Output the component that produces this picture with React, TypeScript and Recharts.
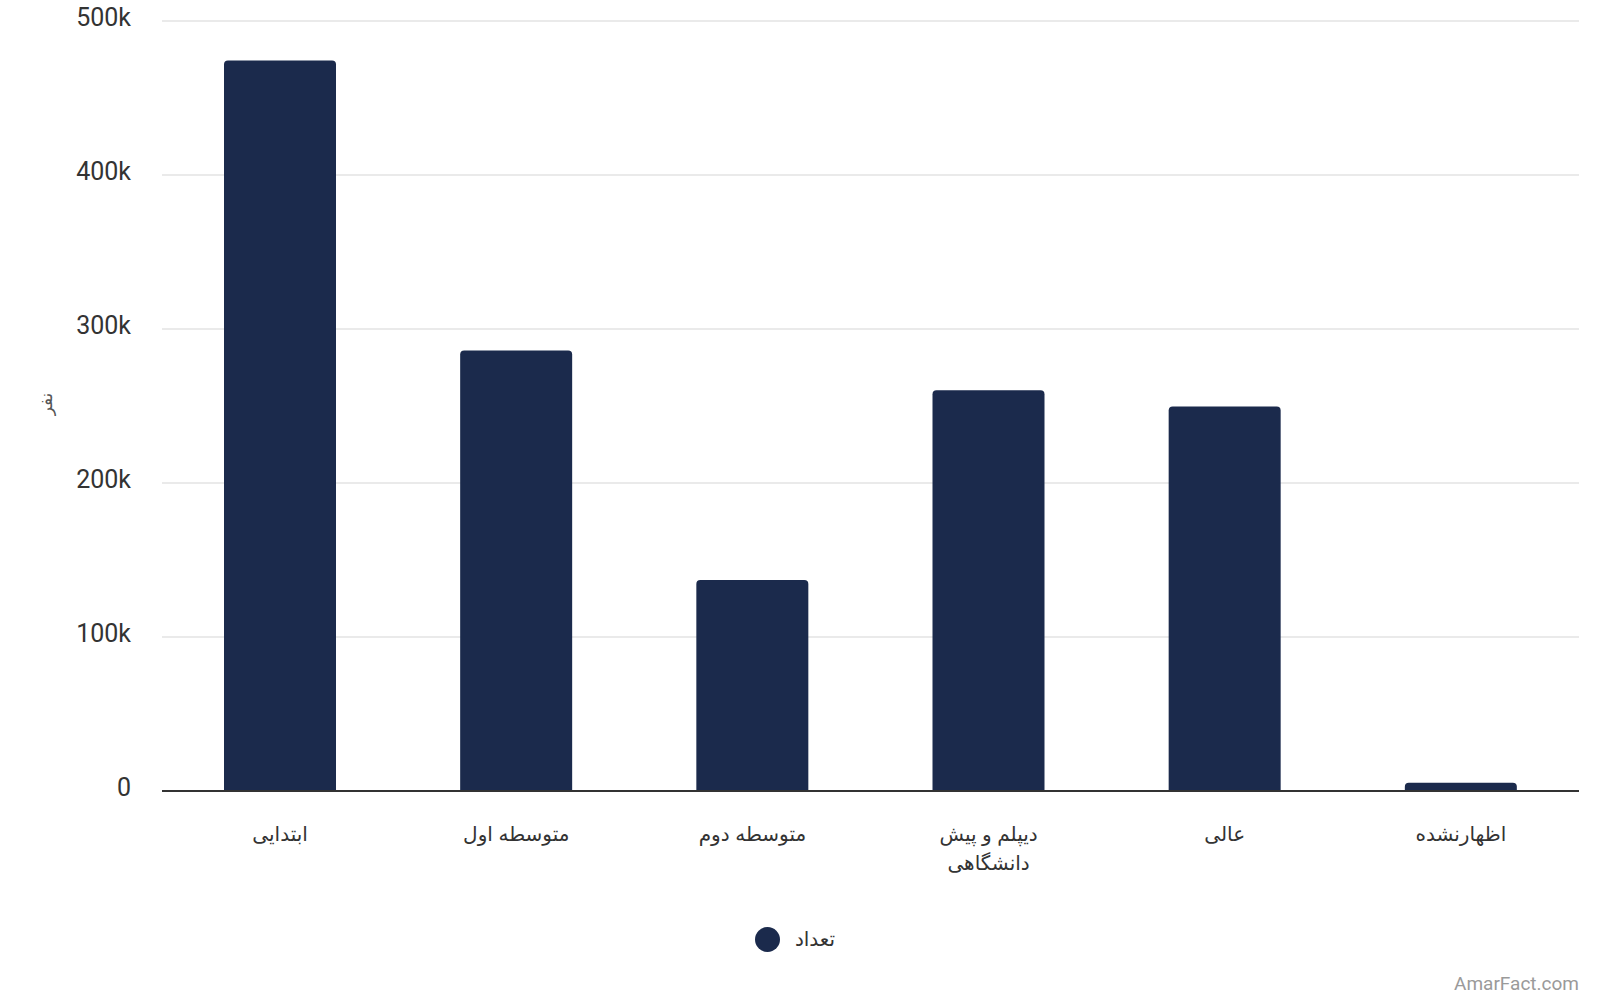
import React from 'react';
import { BarChart, Bar, XAxis, YAxis, CartesianGrid, Legend } from 'recharts';

const categories = ['ابتدایی', 'متوسطه اول', 'متوسطه دوم', 'دیپلم و پیش\nدانشگاهی', 'عالی', 'اظهارنشده'];
const counts = [474300, 286100, 137000, 260300, 249700, 5300];
const yTicks = [0, 100000, 200000, 300000, 400000, 500000];
const seriesName = 'تعداد';
const yLabel = 'نفر';
const watermark = 'AmarFact.com';

const data = categories.map((c, i) => ({ name: c, value: counts[i] }));

const BAR_COLOR = '#1b2a4c';
const PERSIAN_FONT = "'Liberation Sans', 'DejaVu Sans', sans-serif";

const fmt = (v: number) => (v === 0 ? '0' : `${v / 1000}k`);

const YTick = (props: any) => {
  const { x, y, payload } = props;
  return (
    <text x={x} y={y} dy={5} textAnchor="end" fontFamily="Roboto" fontSize={25} fill="#333">
      {fmt(payload.value)}
    </text>
  );
};

const XTick = (props: any) => {
  const { x, y, payload } = props;
  const lines = String(payload.value).split('\n');
  return (
    <g>
      {lines.map((l, i) => (
        <text
          key={i}
          x={x}
          y={y + 42 + i * 29}
          textAnchor="middle"
          fontFamily={PERSIAN_FONT}
          fontSize={20}
          fill="#333"
          direction="rtl"
          style={{ unicodeBidi: 'plaintext' as any }}
        >
          {l}
        </text>
      ))}
    </g>
  );
};

const YLabel = (props: any) => {
  const vb = props.viewBox || { x: 0, y: 21, width: 162, height: 770 };
  const cx = vb.x + 46;
  const cy = vb.y + vb.height / 2 - 2;
  return (
    <text
      x={cx}
      y={cy}
      textAnchor="middle"
      dominantBaseline="central"
      transform={`rotate(-90, ${cx}, ${cy})`}
      fontFamily={PERSIAN_FONT}
      fontSize={17}
      fill="#555"
    >
      {yLabel}
    </text>
  );
};

const LegendContent = () => (
  <div
    style={{
      height: 50,
      display: 'flex',
      alignItems: 'center',
      justifyContent: 'center',
      paddingRight: 10,
      boxSizing: 'border-box',
    }}
  >
    <span
      style={{
        display: 'inline-block',
        width: 25,
        height: 25,
        borderRadius: '50%',
        background: BAR_COLOR,
        marginRight: 15,
      }}
    />
    <span style={{ fontFamily: PERSIAN_FONT, fontSize: 20, color: '#333' }}>{seriesName}</span>
  </div>
);

export default function App() {
  return (
    <div style={{ position: 'absolute', left: 0, top: 0, width: 1600, height: 1000, background: '#fff' }}>
      <BarChart
        width={1600}
        height={1000}
        data={data}
        margin={{ top: 21, right: 21, left: 0, bottom: 36 }}
      >
        <CartesianGrid horizontal vertical={false} stroke="#e3e3e3" strokeWidth={1.5} />
        <YAxis
          width={162}
          domain={[0, 500000]}
          ticks={yTicks}
          axisLine={false}
          tickLine={false}
          tickMargin={25}
          tick={<YTick />}
          label={<YLabel />}
        />
        <XAxis
          dataKey="name"
          height={123}
          axisLine={{ stroke: '#333', strokeWidth: 2 }}
          tickLine={false}
          interval={0}
          tick={<XTick />}
        />
        <Legend
          verticalAlign="bottom"
          content={<LegendContent />}
          wrapperStyle={{ left: 0, width: 1600 }}
        />
        <Bar
          dataKey="value"
          name={seriesName}
          fill={BAR_COLOR}
          barSize={112}
          radius={[4, 4, 0, 0]}
          isAnimationActive={false}
        />
      </BarChart>
      <div
        style={{
          position: 'absolute',
          right: 21,
          top: 972,
          fontFamily: 'Roboto',
          fontSize: 19,
          color: '#9a9a9a',
        }}
      >
        {watermark}
      </div>
    </div>
  );
}
